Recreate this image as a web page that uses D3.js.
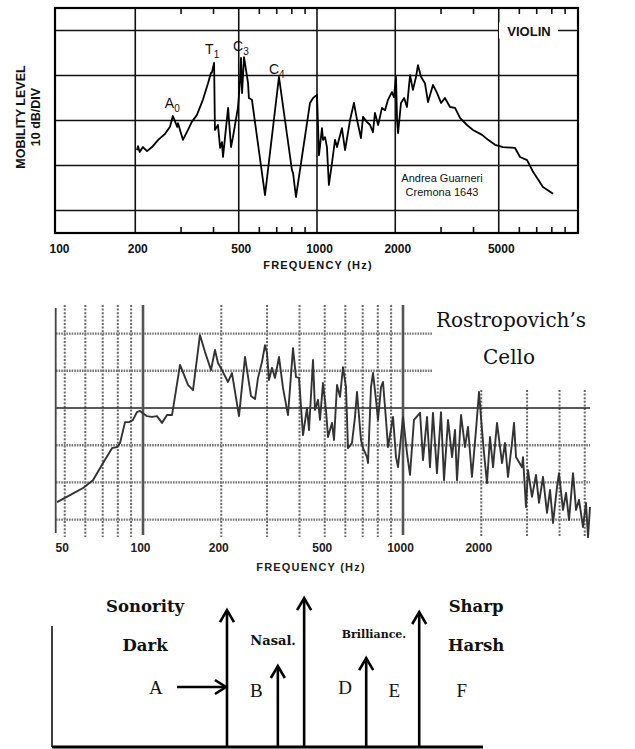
<!DOCTYPE html>
<html>
<head>
<meta charset="utf-8">
<script src="https://cdn.jsdelivr.net/npm/d3@7"></script>
<style>
  body { margin: 0; background: #fff; }
  svg { display: block; }
</style>
</head>
<body>
<svg id="chart" width="635" height="749"></svg>
<script>
// ---------- Violin bridge mobility (Andrea Guarneri, Cremona 1643) ----------
const violinFreq = [203,205,208,214,222,232,245,260,272,279,
  290,292,303,305,319,330,345,364,381,391,
  394,402,405,416,424,431,435,443,455,467,
  475,497,506,510,515,524,543,547,562,631,
  714,801,809,830,940,966,1000,1018,1045,1055,
  1074,1092,1111,1142,1173,1194,1247,1282,1340,1387,
  1426,1476,1503,1556,1600,1641,1671,1718,1778,1827,
  1875,1941,1977,2013,2032,2050,2104,2163,2218,2280,
  2339,2404,2445,2512,2601,2673,2793,2897,3000,3105,
  3248,3395,3548,3774,3981,4315,4550,4842,5190,5776,
  6039,6427,6776,7396,8091];
const violinLevel = [18.4,19.3,18.0,19.1,18.2,19.1,20.7,22.0,23.6,26.0,
  23.6,24.4,21.3,20.7,22.9,24.7,26.2,29.6,33.3,35.6,
  35.6,37.8,22.9,24.0,18.9,20.2,16.9,21.3,27.8,19.1,
  21.3,28.0,34.0,38.9,31.1,39.1,33.3,30.0,29.6,8.4,
  34.7,14.0,13.3,8.0,28.9,30.0,30.7,17.3,23.3,20.7,
  21.3,19.1,10.7,15.6,20.7,19.1,23.3,18.4,25.1,28.9,
  25.1,21.1,25.8,24.7,24.0,22.4,26.7,24.0,27.8,27.3,
  29.6,31.3,30.2,34.7,25.1,22.2,28.9,30.0,28.0,35.1,
  31.8,34.7,37.3,34.7,33.3,29.1,32.9,31.1,28.9,30.0,
  28.0,27.8,25.6,24.0,22.9,21.8,20.7,19.6,19.1,18.9,
  16.9,16.2,13.6,10.2,8.7];
const violinTicks = [100, 200, 500, 1000, 2000, 5000];
const violinMinor = [300,400,600,700,800,900,3000,4000,6000,7000,8000,9000];
const violinGridLevels = [5, 15, 25, 35, 45];
const violinPeakNames = ["A", "T", "C", "C"];
const violinPeakSubs = ["0", "1", "3", "4"];
const violinPeakFreq = [279, 402, 524, 714];

// ---------- Cello spectrum ----------
const celloFreq = [46.7,52.4,58.8,64.2,70.2,76.0,79.4,81.6,85.3,88.4,
  91.5,94.8,97.4,103.6,108.3,113.2,118.3,123.7,129.3,132.7,
  138.8,149.0,155.7,165.6,173.1,182.6,189.2,194.3,201.3,212.3,
  219.9,234.0,246.8,260.3,269.7,276.9,286.9,294.6,299.9,305.2,
  313.4,321.9,333.5,345.5,361.1,377.5,387.7,398.1,412.5,427.3,
  435.0,450.7,458.7,471.1,479.5,492.4,505.6,514.7,533.3,542.8,
  557.5,572.5,587.8,603.6,614.4,636.5,653.7,665.4,689.4,701.8,
  727.0,733.5,753.2,766.7,787.5,801.5,823.1,837.8,860.3,875.7,
  915.3,940.0,956.8,982.4,1000,1036,1064,1102,1163,1194,
  1237,1270,1304,1351,1400,1438,1490,1544,1585,1613,
  1672,1732,1778,1842,1909,1960,2013,2049,2104,2161,
  2220,2299,2404,2468,2534,2626,2673,2721,2869,2894,
  2972,3025,3134,3247,3335,3455,3580,3677,3776,3912,
  3981,4125,4236,4351,4507,4629,4753,4924,5056,5147,
  5239];
const celloLevel = [-25.3,-23.4,-21.5,-19.4,-14.8,-10.8,-10.5,-9.4,-3.8,-3.8,
  -3.2,-1.1,-0.8,-2.2,-2.4,-2.2,-4.0,-1.9,-1.9,3.0,
  11.6,6.2,4.8,19.6,15.1,10.2,15.6,12.1,10.2,7.0,
  9.4,-2.2,13.7,3.2,2.4,8.1,12.4,16.9,14.8,7.5,
  10.8,8.1,13.7,5.4,-1.9,16.1,8.3,8.1,-7.3,0.0,
  -5.9,12.9,-0.5,2.2,-3.2,6.7,-0.5,-7.8,-4.0,-8.6,
  6.2,3.0,11.0,5.6,-10.8,-9.4,-2.4,4.3,-8.6,-10.8,
  -13.2,-14.8,5.6,9.4,2.2,-3.2,5.6,7.0,-3.2,-10.5,
  -2.4,-13.2,-15.9,-7.8,-2.4,-12.1,-18.0,-3.2,-1.3,-14.0,
  -2.4,-15.9,-1.3,-17.5,-1.1,-19.4,-3.2,-13.2,-5.9,-19.4,
  -1.9,-10.5,-5.1,-18.5,-5.9,4.3,-5.9,-12.1,-20.2,-7.8,
  -15.9,-4.0,-14.8,-9.4,-18.5,-9.4,-4.0,-13.2,-15.9,-13.2,
  -26.6,-16.7,-23.9,-18.0,-25.5,-18.5,-28.2,-22.0,-30.9,-21.2,
  -17.5,-27.4,-22.8,-30.1,-17.5,-27.4,-24.7,-32.0,-25.5,-34.7,
  -26.6];
const celloTicks = [50, 100, 200, 500, 1000, 2000];
const celloSolidGrid = [100, 1000];
const celloDotGridLow = [50,60,70,80,90,200,300,400,500,600,700,800,900];
const celloDotGridHigh = [2000,3000,4000,5000];
const celloGridLevels = [20, 10, 0, -10, -20, -30];

// ---------- Tone-quality bands ----------
const boundaryPos = [4.06, 5.24, 5.85, 7.29, 8.52];
const boundaryHeight = [9.13, 5.4, 9.93, 5.93, 9.0];
const bandLetters = ["A", "B", "D", "E", "F"];
const bandLetterPos = [2.41, 4.74, 6.80, 7.94, 9.51];
const qualityTop = ["Sonority", "Nasal.", "Brilliance.", "Sharp"];
const qualityBottom = ["Dark", "", "", "Harsh"];
const qualityPos = [2.16, 5.13, 7.47, 9.84];

const svg = d3.select("#chart");
const sansBold = "'Liberation Sans', Arial, sans-serif";

// =============== Panel 1: violin =================
const xV = d3.scaleLog().domain([100, 10000]).range([57, 577]);
const yV = d3.scaleLinear().domain([0, 50]).range([233, 8]);
const gV = svg.append("g");

gV.selectAll("line.hgrid").data(violinGridLevels).join("line")
  .attr("x1", 55).attr("x2", 578)
  .attr("y1", d => yV(d)).attr("y2", d => yV(d))
  .attr("stroke", "#111").attr("stroke-width", 1.6);
gV.selectAll("line.vgrid").data(violinTicks.slice(1)).join("line")
  .attr("x1", d => xV(d)).attr("x2", d => xV(d))
  .attr("y1", 8).attr("y2", 233)
  .attr("stroke", "#111").attr("stroke-width", 1.6);
// minor ticks on top and bottom edges
gV.selectAll("line.mt").data(violinMinor).join("line")
  .attr("x1", d => xV(d)).attr("x2", d => xV(d))
  .attr("y1", 8).attr("y2", 14).attr("stroke", "#111").attr("stroke-width", 1.6);
gV.selectAll("line.mb").data(violinMinor).join("line")
  .attr("x1", d => xV(d)).attr("x2", d => xV(d))
  .attr("y1", 227).attr("y2", 233).attr("stroke", "#111").attr("stroke-width", 1.6);
gV.append("rect").attr("x", 55).attr("y", 8).attr("width", 523).attr("height", 225)
  .attr("fill", "none").attr("stroke", "#000").attr("stroke-width", 2.2);

// instrument label sitting on the top grid line
gV.append("rect").attr("x", 499).attr("y", yV(45) - 8).attr("width", 59).attr("height", 16).attr("fill", "#fff");
gV.append("text").attr("x", 529).attr("y", yV(45) + 5).attr("text-anchor", "middle")
  .style("font", `bold 13px ${sansBold}`).attr("fill", "#111").text("VIOLIN");

const violinLine = d3.line().x((d, i) => xV(violinFreq[i])).y(d => yV(d));
gV.append("path").datum(violinLevel).attr("d", violinLine)
  .attr("fill", "none").attr("stroke", "#000").attr("stroke-width", 1.8).attr("stroke-linejoin", "round");

// mode labels
const peakOffsets = [[-8, -8], [-9, -9], [-11, -6], [-10, -3]];
violinPeakFreq.forEach((f, i) => {
  const lv = violinLevel[violinFreq.indexOf(f)];
  const t = gV.append("text")
    .attr("x", xV(f) + peakOffsets[i][0]).attr("y", yV(lv) + peakOffsets[i][1])
    .style("font", `14px ${sansBold}`).attr("fill", "#111");
  t.append("tspan").attr("fill", "#111").text(violinPeakNames[i]);
  t.append("tspan").attr("fill", "#111").attr("dy", 4).style("font-size", "10px").text(violinPeakSubs[i]);
});

gV.append("text").attr("x", 442).attr("y", 182).attr("text-anchor", "middle")
  .style("font", `11px ${sansBold}`).attr("fill", "#111").text("Andrea Guarneri");
gV.append("text").attr("x", 442).attr("y", 196).attr("text-anchor", "middle")
  .style("font", `11px ${sansBold}`).attr("fill", "#111").text("Cremona 1643");

// x axis labels
const axV = d3.axisBottom(xV).tickValues(violinTicks).tickSize(0).tickFormat(d3.format("d"));
const axVg = gV.append("g").attr("transform", "translate(2,241)").call(axV);
axVg.select(".domain").remove();
axVg.selectAll("text").style("font", `bold 12px ${sansBold}`).attr("fill", "#111");
gV.append("text").attr("x", 318).attr("y", 269).attr("text-anchor", "middle")
  .style("font", `bold 11px ${sansBold}`).style("letter-spacing", "1.2px").attr("fill", "#111")
  .text("FREQUENCY (Hz)");

// y axis title
const yt = gV.append("g").attr("transform", "translate(21,117) rotate(-90)");
yt.append("text").attr("text-anchor", "middle").attr("dominant-baseline", "central")
  .style("font", `bold 12.5px ${sansBold}`).attr("fill", "#111").text("MOBILITY LEVEL");
yt.append("text").attr("y", 15).attr("text-anchor", "middle").attr("dominant-baseline", "central")
  .style("font", `bold 12.5px ${sansBold}`).attr("fill", "#111").text("10 dB/DIV");

// =============== Panel 2: cello =================
const xC = d3.scaleLog().domain([100, 1000]).range([143, 403]);
const yC = d3.scaleLinear().domain([-30, 20]).range([519.6, 333.6]);
const gC = svg.append("g");

gC.selectAll("line.dl").data(celloDotGridLow).join("line")
  .attr("x1", d => xC(d)).attr("x2", d => xC(d)).attr("y1", 305).attr("y2", 537)
  .attr("stroke", "#666").attr("stroke-width", 2).attr("stroke-dasharray", "2,1.6");
gC.selectAll("line.dh").data(celloDotGridHigh).join("line")
  .attr("x1", d => xC(d)).attr("x2", d => xC(d)).attr("y1", 390).attr("y2", 537)
  .attr("stroke", "#666").attr("stroke-width", 2).attr("stroke-dasharray", "2,1.6");
gC.selectAll("line.hg").data(celloGridLevels).join("line")
  .attr("x1", 56).attr("x2", d => d >= 10 ? 432 : 590)
  .attr("y1", d => yC(d)).attr("y2", d => yC(d))
  .attr("stroke", d => d === 0 ? "#222" : "#777")
  .attr("stroke-width", d => d === 0 ? 1.3 : 2.4)
  .attr("stroke-dasharray", d => d === 0 ? null : "1.6,1");
gC.selectAll("line.sg").data(celloSolidGrid).join("line")
  .attr("x1", d => xC(d)).attr("x2", d => xC(d)).attr("y1", 305).attr("y2", 535)
  .attr("stroke", "#555").attr("stroke-width", 2.6);
gC.append("line").attr("x1", 55.7).attr("x2", 55.7).attr("y1", 308).attr("y2", 533)
  .attr("stroke", "#444").attr("stroke-width", 1.8);

const celloLine = d3.line().x((d, i) => xC(celloFreq[i])).y(d => yC(d));
gC.append("path").datum(celloLevel).attr("d", celloLine)
  .attr("fill", "none").attr("stroke", "#333").attr("stroke-width", 1.9).attr("stroke-linejoin", "round");

const axC = d3.axisBottom(xC).tickValues(celloTicks).tickSize(0).tickFormat(d3.format("d"));
const axCg = gC.append("g").attr("transform", "translate(-3,540)").call(axC);
axCg.select(".domain").remove();
axCg.selectAll("text").style("font", `bold 12px ${sansBold}`).attr("fill", "#222");
gC.append("text").attr("x", 311).attr("y", 571).attr("text-anchor", "middle")
  .style("font", `bold 11px ${sansBold}`).style("letter-spacing", "1.2px").attr("fill", "#222")
  .text("FREQUENCY (Hz)");

gC.append("text").attr("x", 511).attr("y", 327).attr("text-anchor", "middle")
  .style("font", "20px 'DejaVu Serif', serif").attr("fill", "#111").text("Rostropovich\u2019s");
gC.append("text").attr("x", 509).attr("y", 364).attr("text-anchor", "middle")
  .style("font", "20px 'DejaVu Serif', serif").attr("fill", "#111").text("Cello");

// =============== Panel 3: tone-quality bands =================
const xB = d3.scaleLinear().domain([0, 10]).range([52, 483]);
const yB = d3.scaleLinear().domain([0, 10]).range([747, 597]);
const gB = svg.append("g");

gB.append("line").attr("x1", xB(0)).attr("x2", xB(0)).attr("y1", yB(0)).attr("y2", yB(8.07))
  .attr("stroke", "#000").attr("stroke-width", 1.5);
gB.append("line").attr("x1", xB(0)).attr("x2", xB(10)).attr("y1", yB(0)).attr("y2", yB(0))
  .attr("stroke", "#000").attr("stroke-width", 3);

gB.selectAll("line.arrow").data(boundaryPos).join("line")
  .attr("x1", d => xB(d)).attr("x2", d => xB(d))
  .attr("y1", yB(0)).attr("y2", (d, i) => yB(boundaryHeight[i]) + 1)
  .attr("stroke", "#000").attr("stroke-width", 2.6);
gB.selectAll("path.head").data(boundaryPos).join("path")
  .attr("d", (d, i) => {
    const x = xB(d), y = yB(boundaryHeight[i]);
    return `M${x - 7},${y + 12} L${x},${y} L${x + 7},${y + 12}`;
  })
  .attr("fill", "none").attr("stroke", "#000").attr("stroke-width", 2.6);

// arrow pointing into the first boundary
const hy = yB(4.0);
gB.append("line").attr("x1", xB(2.9)).attr("x2", xB(boundaryPos[0]) - 2).attr("y1", hy).attr("y2", hy)
  .attr("stroke", "#000").attr("stroke-width", 2.6);
gB.append("path")
  .attr("d", `M${xB(boundaryPos[0]) - 12},${hy - 7} L${xB(boundaryPos[0]) - 1},${hy} L${xB(boundaryPos[0]) - 12},${hy + 7}`)
  .attr("fill", "none").attr("stroke", "#000").attr("stroke-width", 2.6);

const serif = "'Liberation Serif', 'Times New Roman', serif";
const boldSerif = "'DejaVu Serif', serif";
gB.selectAll("text.letter").data(bandLetters).join("text")
  .attr("x", (d, i) => xB(bandLetterPos[i])).attr("y", (d, i) => i === 0 || i === 2 ? 694 : 697)
  .attr("text-anchor", "middle").style("font", `19px ${serif}`).attr("fill", "#111").text(d => d);

const qSizes = [16.5, 13, 11, 16.5];
const qTopY = [612, 645, 638, 612];
gB.selectAll("text.qt").data(qualityTop).join("text")
  .attr("x", (d, i) => xB(qualityPos[i])).attr("y", (d, i) => qTopY[i])
  .attr("text-anchor", "middle")
  .style("font-family", boldSerif).style("font-weight", "bold")
  .style("font-size", (d, i) => qSizes[i] + "px").attr("fill", "#111").text(d => d);
gB.selectAll("text.qb").data(qualityBottom).join("text")
  .attr("x", (d, i) => xB(qualityPos[i])).attr("y", 651)
  .attr("text-anchor", "middle")
  .style("font-family", boldSerif).style("font-weight", "bold")
  .style("font-size", "16.5px").attr("fill", "#111").text(d => d);
</script>
</body>
</html>
